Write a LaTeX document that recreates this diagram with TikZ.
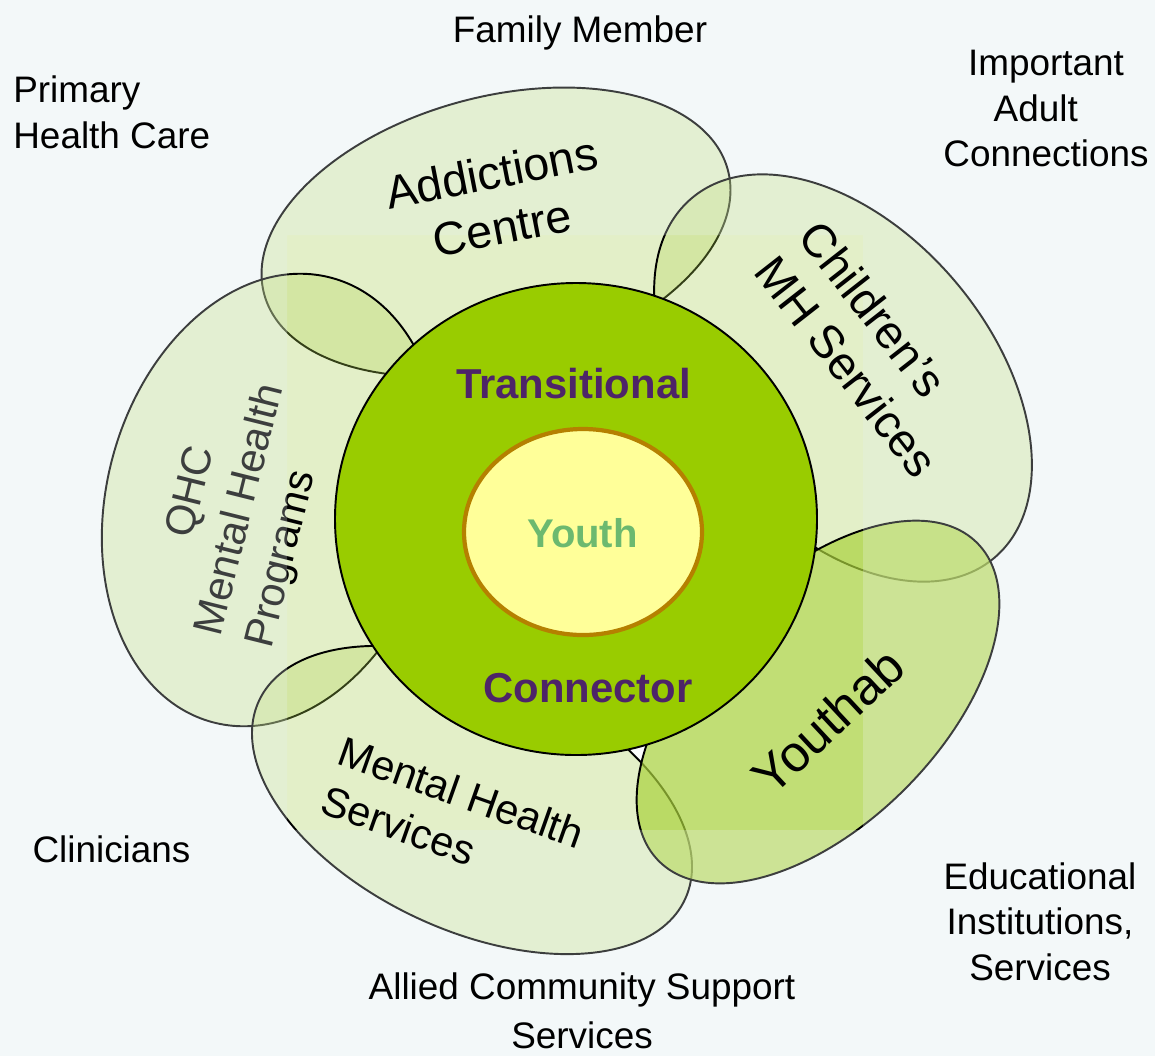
\documentclass[tikz,border=0pt]{standalone}
\usepackage{fontspec}
\setmainfont{Liberation Sans}
\usepackage{tikz}

\definecolor{bgblue}{RGB}{243,248,249}
\definecolor{petalgreen}{RGB}{175,212,80}
\definecolor{youthabgreen}{RGB}{170,210,60}
\definecolor{ringgreen}{RGB}{153,204,0}
\definecolor{coreyellow}{RGB}{255,255,153}
\definecolor{corebrown}{RGB}{181,128,0}
\definecolor{labelpurple}{RGB}{77,36,104}
\definecolor{youthgreen}{RGB}{108,185,111}

\begin{document}
\begin{tikzpicture}[x=0.02cm, y=-0.02cm,
    petal/.style={draw=black, line width=1.1pt, fill=petalgreen, fill opacity=0.3},
    outer/.style={font=\fontsize{21}{26}\selectfont, align=center, inner sep=0pt},
    petaltext/.style={font=\fontsize{26.5}{32}\selectfont, align=center, inner sep=0pt},
    smalltext/.style={font=\fontsize{23.7}{29.6}\selectfont, align=left, inner sep=0pt},
    ringtext/.style={font=\fontsize{23.8}{28}\selectfont\bfseries, text=labelpurple, inner sep=0pt}]
	% Canvas
	\useasboundingbox (0,0) rectangle (1155,1056);
	\fill[bgblue] (0,0) rectangle (1155,1056);
	\fill[white, fill opacity=0.6] (287,235) rectangle (863,830);
	
	% Petals round the ring
	\foreach \cx/\cy/\ra/\rb/\ang in {496/232/240/135/15, 843/378/235/148/-50, 272/500/165/230/-15, 472/800/235/130/-25} {
		\draw[petal, rotate around={\ang:(\cx,\cy)}] (\cx,\cy) ellipse ({\ra} and {\rb});
	}
	\draw[petal, fill=youthabgreen, fill opacity=0.7, rotate around={45:(818,702)}] (818,702) ellipse (225 and 123);
	
	% Ring and core
	\draw[fill=ringgreen, line width=1.1pt] (576,519) ellipse (241 and 236);
	\draw[fill=coreyellow, draw=corebrown, line width=2.4pt] (583,532) ellipse (119 and 103);
	\node[ringtext, anchor=base] (transitional) at (573.5,398) {Transitional};
	\node[ringtext, anchor=base] (connector) at (588,702) {Connector};
	\node[ringtext, font=\fontsize{22.8}{27}\selectfont\bfseries, text=youthgreen, anchor=base] (youth) at (582.5,547) {Youth};
	
	% Left petal text sits under the tint
	\node[smalltext, rotate=76] (qhc) at (242,510) {\hspace*{2.1em}QHC\\Mental Health\\Programs};
	\fill[bgblue, fill opacity=0.25, even odd rule] (0,0) rectangle (1155,1056) (287,235) rectangle (863,830);
	
	% Petal labels
	\node[petaltext, rotate=11] (addictions) at (497,200) {Addictions\\Centre};
	\node[petaltext, align=left, rotate=-52] (childrens) at (869,349) {Children’s\\MH Services};
	\node[smalltext, rotate=-19.5] (mhservices) at (453,817) {Mental Health\\Services};
	\node[petaltext, font=\fontsize{29}{34}\selectfont, rotate=43] (youthab) at (828,721) {Youthab};
	
	% Outer connections
	\node[outer, anchor=base] (family) at (580,42) {Family Member};
	\node[outer, align=left, anchor=west] (primary) at (13,112.5) {Primary\\Health Care};
	\node[outer] (important) at (1046,108.5) {Important\\Adult\hphantom{n}\\Connections};
	\node[outer, anchor=base] (clinicians) at (111.5,862) {Clinicians};
	\node[outer] (educational) at (1040,921.5) {Educational\\Institutions,\\Services};
	\node[outer] (allied) at (582,1010.5) {Allied Community Support\\[1.7pt]Services};
\end{tikzpicture}
\end{document}
